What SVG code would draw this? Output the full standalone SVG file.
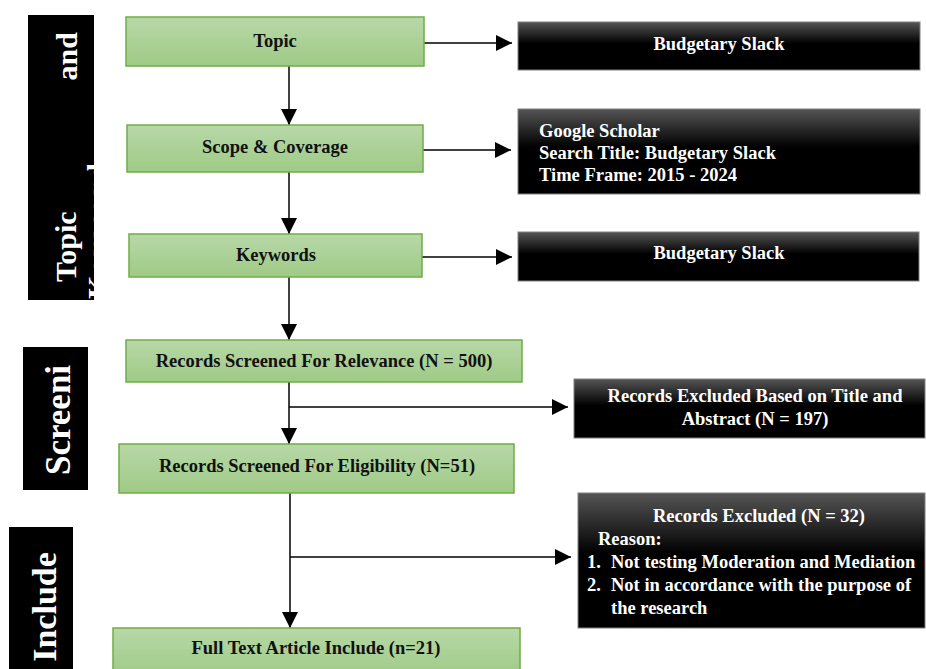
<svg xmlns="http://www.w3.org/2000/svg" width="926" height="669" viewBox="0 0 926 669">
<defs>
<linearGradient id="gGreen" x1="0" y1="0" x2="0" y2="1">
<stop offset="0" stop-color="#b8d8a8"/>
<stop offset="1" stop-color="#9fca86"/>
</linearGradient>
<linearGradient id="gBlack" x1="0" y1="0" x2="0" y2="1">
<stop offset="0" stop-color="#555555"/>
<stop offset="0.45" stop-color="#000000"/>
<stop offset="1" stop-color="#000000"/>
</linearGradient>
<marker id="arr" markerUnits="userSpaceOnUse" markerWidth="17" markerHeight="16" refX="16" refY="8" orient="auto">
<path d="M0,0 L16,8 L0,16 Z" fill="#000"/>
</marker>
<clipPath id="clipBar1"><rect x="28" y="15" width="66" height="285"/></clipPath>
</defs>
<style>
.green{fill:url(#gGreen);stroke:#70ad47;stroke-width:1.5}
.black{fill:url(#gBlack);stroke:#808080;stroke-width:1}
.bar{fill:#000}
.t{font-family:"Liberation Serif","Times New Roman",serif;font-weight:bold;font-size:18.5px}
.dk{fill:#111}
.wt{fill:#fff}
.side{font-family:"Liberation Serif","Times New Roman",serif;font-weight:bold;fill:#fff}
.c{text-anchor:middle}
.ln{stroke:#000;stroke-width:1.5;fill:none}
</style>

<g id="phase-topic">
<rect class="bar" x="28" y="15" width="66" height="285"/>
<g clip-path="url(#clipBar1)">
<text class="side" font-size="30" transform="translate(76,282) rotate(-90)">Topic</text>
<text class="side" font-size="30" text-anchor="end" transform="translate(77,32) rotate(-90)">and</text>
<text class="side" font-size="30" textLength="136" lengthAdjust="spacing" transform="translate(108,299) rotate(-90)">Keyword</text>
</g>
</g>
<g id="phase-screening">
<rect class="bar" x="23" y="347" width="65" height="143"/>
<text class="side c" font-size="35" transform="translate(70,420) rotate(-90)">Screeni</text>
</g>
<g id="phase-include">
<rect class="bar" x="9" y="527" width="64" height="142"/>
<text class="side c" font-size="34" transform="translate(56,607) rotate(-90)">Include</text>
</g>

<g id="connectors">
<line class="ln" x1="289" y1="63" x2="289" y2="125" marker-end="url(#arr)"/>
<line class="ln" x1="289" y1="172" x2="289" y2="234" marker-end="url(#arr)"/>
<line class="ln" x1="289" y1="277" x2="289" y2="340" marker-end="url(#arr)"/>
<line class="ln" x1="289" y1="382" x2="289" y2="444" marker-end="url(#arr)"/>
<line class="ln" x1="289" y1="407" x2="568" y2="407" marker-end="url(#arr)"/>
<line class="ln" x1="290" y1="493" x2="290" y2="628" marker-end="url(#arr)"/>
<line class="ln" x1="290" y1="557" x2="571" y2="557" marker-end="url(#arr)"/>
<line class="ln" x1="424" y1="43" x2="512" y2="43" marker-end="url(#arr)"/>
<line class="ln" x1="423" y1="150" x2="511" y2="150" marker-end="url(#arr)"/>
<line class="ln" x1="422" y1="257" x2="512" y2="257" marker-end="url(#arr)"/>
</g>

<g id="topic">
<rect class="green" x="126" y="17" width="298" height="49"/>
<text class="t dk c" x="275" y="47">Topic</text>
</g>
<g id="scope">
<rect class="green" x="127" y="125" width="296" height="47"/>
<text class="t dk c" x="275" y="153">Scope &amp; Coverage</text>
</g>
<g id="keywords">
<rect class="green" x="129" y="234" width="293" height="43"/>
<text class="t dk c" x="276" y="261">Keywords</text>
</g>
<g id="screened-relevance">
<rect class="green" x="126" y="340" width="396" height="42"/>
<text class="t dk c" x="324" y="367">Records Screened For Relevance (N = 500)</text>
</g>
<g id="screened-eligibility">
<rect class="green" x="119" y="444" width="395" height="49"/>
<text class="t dk c" x="317" y="472">Records Screened For Eligibility (N=51)</text>
</g>
<g id="full-text">
<rect class="green" x="113" y="628" width="407" height="50"/>
<text class="t dk c" x="316" y="654">Full Text Article Include (n=21)</text>
</g>

<g id="topic-result">
<rect class="black" x="518" y="22" width="402" height="48"/>
<text class="t wt c" x="719" y="50">Budgetary Slack</text>
</g>
<g id="scope-result">
<rect class="black" x="518" y="109" width="402" height="85"/>
<text class="t wt" x="539" y="137">Google Scholar</text>
<text class="t wt" x="539" y="159">Search Title: Budgetary Slack</text>
<text class="t wt" x="539" y="181">Time Frame: 2015 - 2024</text>
</g>
<g id="keywords-result">
<rect class="black" x="518" y="232" width="401" height="49"/>
<text class="t wt c" x="719" y="259">Budgetary Slack</text>
</g>
<g id="excluded-197">
<rect class="black" x="574" y="379" width="351" height="59"/>
<text class="t wt c" x="755" y="402">Records Excluded Based on Title and</text>
<text class="t wt c" x="755" y="425">Abstract (N = 197)</text>
</g>
<g id="excluded-32">
<rect class="black" x="578" y="493" width="347" height="135"/>
<text class="t wt c" x="759" y="522">Records Excluded (N = 32)</text>
<text class="t wt" x="598" y="545">Reason:</text>
<text class="t wt" x="587" y="568">1.</text>
<text class="t wt" x="611" y="568">Not testing Moderation and Mediation</text>
<text class="t wt" x="587" y="591">2.</text>
<text class="t wt" x="611" y="591">Not in accordance with the purpose of</text>
<text class="t wt" x="611" y="614">the research</text>
</g>
</svg>
